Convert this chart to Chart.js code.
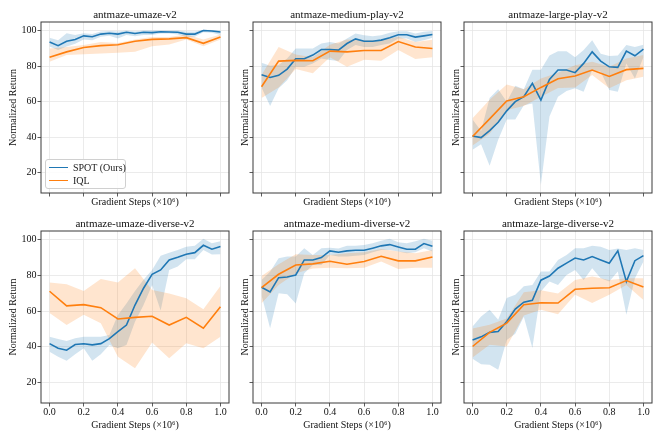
<!DOCTYPE html>
<html>
<head>
<meta charset="utf-8">
<script src="https://cdn.jsdelivr.net/npm/chart.js@4.4.1/dist/chart.umd.min.js"></script>
<style>
  body { margin: 0; background: #fff; }
  #wrap { position: relative; width: 664px; height: 443px; overflow: hidden; }
  #wrap canvas { position: absolute; }
  .legend {
    position: absolute; left: 45px; top: 159px; width: 79px; height: 28px;
    border: 1px solid #d0d0d0; border-radius: 3px; background: rgba(255,255,255,0.85);
    font-family: "Liberation Serif", serif; font-size: 10px; color: #222;
  }
  .legend .row { position: absolute; left: 3px; height: 12px; line-height: 12px; white-space: nowrap; }
  .legend .swatch { display: inline-block; width: 19px; height: 0; border-top: 1.5px solid; vertical-align: middle; margin-right: 5px; position: relative; top: -1px; }
</style>
</head>
<body>
<div id="wrap">
  <canvas id="c1"></canvas>
  <canvas id="c2"></canvas>
  <canvas id="c3"></canvas>
  <canvas id="c4"></canvas>
  <canvas id="c5"></canvas>
  <canvas id="c6"></canvas>
  <div class="legend">
    <div class="row" style="top:2px"><span class="swatch" style="border-color:#1f77b4"></span>SPOT (Ours)</div>
    <div class="row" style="top:15px"><span class="swatch" style="border-color:#ff7f0e"></span>IQL</div>
  </div>
</div>
<script>
// x positions of the logged evaluations (x 10^6 gradient steps)
const SPOT_STEPS = [0, 0.05, 0.1, 0.15, 0.2, 0.25, 0.3, 0.35, 0.4, 0.45, 0.5, 0.55, 0.6, 0.65, 0.7, 0.75, 0.8, 0.85, 0.9, 0.95, 1.0];
const IQL_STEPS = [0, 0.1, 0.2, 0.3, 0.4, 0.5, 0.6, 0.7, 0.8, 0.9, 1.0];
const X_TICKS = [0, 0.2, 0.4, 0.6, 0.8, 1.0];
const Y_TICKS = [20, 40, 60, 80, 100];

// antmaze-umaze-v2
const UMAZE_SPOT = [93.5, 91.5, 94, 95, 97, 96.5, 98, 98.5, 98, 99, 98.3, 99, 98.8, 99.3, 99.2, 99, 98, 98, 100, 99.7, 99.2];
const UMAZE_SPOT_HI = [96, 94.5, 98.5, 97.5, 98.5, 98, 99.5, 99.8, 99.5, 100, 99.5, 100, 100, 100, 100, 100, 99.5, 99.5, 100.5, 100.3, 100];
const UMAZE_SPOT_LO = [91, 89, 91, 92.5, 95, 94.5, 96.5, 97, 95.5, 97.5, 96.8, 97.5, 97.5, 98.3, 98.3, 97.8, 96.3, 96.5, 99, 98.8, 97.5];
const UMAZE_IQL = [85, 88, 90.5, 91.5, 92, 94, 95, 95.3, 96, 92.8, 96.3];
const UMAZE_IQL_HI = [89.9, 90.8, 91.8, 93.6, 93, 95, 96.4, 96.4, 97.8, 95, 97.8];
const UMAZE_IQL_LO = [82.4, 86.2, 86.7, 87.1, 87.5, 88, 91.2, 92.1, 95, 91.2, 95];

// antmaze-medium-play-v2
const MPLAY_SPOT = [75.1, 73.6, 74.8, 78.3, 84.1, 84.1, 86.2, 89.3, 89.3, 89, 92.7, 95.3, 94, 94, 94.6, 95.9, 97.6, 97.6, 96.3, 97, 97.8];
const MPLAY_SPOT_HI = [81.9, 80.2, 80.6, 84.3, 89.9, 89.9, 89.9, 92.7, 93.6, 92.7, 95.5, 98.3, 97.4, 96.8, 97.4, 98.7, 99.6, 99.6, 98.3, 99.3, 99.8];
const MPLAY_SPOT_LO = [68, 57.6, 67.5, 72.1, 79.6, 79.6, 81.5, 84.3, 83.4, 82.8, 89, 91.8, 90.8, 90.8, 91.8, 92.7, 95.5, 95.5, 93.6, 94.6, 96];
const MPLAY_IQL = [68.4, 82.8, 83.2, 83, 88.4, 88, 88.8, 88.8, 93.8, 90.7, 89.9];
const MPLAY_IQL_HI = [75, 90.8, 86.5, 85, 92, 95, 94.6, 94.6, 96.5, 93.5, 94.8];
const MPLAY_IQL_LO = [62, 68, 78.3, 76, 85, 79.6, 83.6, 83, 89, 84, 85];

// antmaze-large-play-v2
const LPLAY_SPOT = [40.7, 39.8, 43.7, 48.4, 54.8, 60, 62.8, 70.3, 60.9, 72.5, 77.8, 77.8, 76.3, 81.5, 88, 82.8, 79.6, 79.3, 88.4, 85.8, 89.5];
const LPLAY_SPOT_HI = [50, 43.5, 62, 67, 60, 69, 67, 78, 78, 86, 88.4, 88.4, 85, 89, 94.6, 87, 85.7, 86, 91.8, 90.8, 92];
const LPLAY_SPOT_LO = [33, 36, 24, 38.5, 50, 50, 58, 59, 13.3, 51.6, 62.8, 66, 67.5, 65.6, 77.8, 76.8, 66.5, 65.6, 81.5, 73, 85];
const LPLAY_IQL = [40.4, 50.3, 60.4, 62.8, 68, 72.9, 74.4, 77.8, 74.2, 78, 78.7];
const LPLAY_IQL_HI = [50.6, 61, 69.7, 67, 73, 76.3, 80.5, 82.4, 79.6, 84.3, 86.2];
const LPLAY_IQL_LO = [35.3, 42, 55.3, 57.6, 62.8, 67.7, 67.9, 75, 67.5, 72, 74];

// antmaze-umaze-diverse-v2
const UDIV_SPOT = [41.8, 39.2, 38.1, 41.3, 41.7, 41.1, 41.8, 44.6, 48.5, 52.2, 63.4, 72.8, 80.6, 83, 88.6, 90.1, 91.8, 92.7, 96.8, 94.6, 96.1];
const UDIV_SPOT_HI = [45.7, 44.4, 43.3, 44.8, 45.7, 45.7, 45.7, 46.6, 57.8, 64.3, 71.3, 77.5, 83, 91, 92.7, 94.2, 96, 96.6, 100.4, 98, 99];
const UDIV_SPOT_LO = [37.3, 34.5, 32.3, 35.8, 39.2, 32.2, 35.8, 41, 39.2, 41, 54.1, 63.4, 74.6, 60.3, 83, 84.9, 89, 89, 94.2, 91.6, 91.8];
const UDIV_IQL = [71.1, 62.9, 63.6, 61.9, 55.6, 56.5, 57.1, 52.2, 56.5, 50.4, 62.5];
const UDIV_IQL_HI = [76, 75, 71.3, 78, 76, 84, 71.8, 69.8, 67.2, 61, 74];
const UDIV_IQL_LO = [58.9, 52.2, 57.9, 53.2, 34.5, 28, 42.4, 33.6, 42, 39.2, 45.7];

// antmaze-medium-diverse-v2
const MDIV_SPOT = [73.3, 70.7, 78.7, 79.1, 80.2, 88.6, 88.6, 89.9, 93.7, 92.9, 93.7, 94, 94, 95.2, 96.5, 97.2, 95.9, 94.6, 94.6, 97.8, 96.3];
const MDIV_SPOT_HI = [77.4, 82, 89.6, 90.5, 90.5, 95.2, 91.4, 95.2, 95.5, 95, 96.6, 96.6, 97, 98, 99.3, 100.4, 98.5, 98, 99, 100.4, 99.3];
const MDIV_SPOT_LO = [68.9, 50.4, 70, 69.4, 64.3, 81.2, 85.8, 85.8, 91.4, 90.5, 90.5, 91, 91.4, 92.9, 94.2, 94.2, 93.3, 92.3, 92.9, 95.2, 93.3];
const MDIV_IQL = [73.1, 80.6, 85.8, 86.4, 87.9, 86.2, 87.7, 90.7, 88.1, 88.1, 90.3];
const MDIV_IQL_HI = [79.7, 86.2, 91.8, 91.4, 91.4, 92.3, 92.9, 94.8, 93.3, 92.3, 94.2];
const MDIV_IQL_LO = [64.4, 74.6, 81.2, 83.8, 84.3, 84, 84.3, 87.7, 83.6, 84.3, 84.3];

// antmaze-large-diverse-v2
const LDIV_SPOT = [43.9, 45.6, 48.1, 48.6, 54.2, 61.1, 65, 66.1, 77.3, 79.6, 84, 86.8, 89.7, 88.6, 90.5, 88.6, 86.8, 93.7, 76.5, 88.2, 91];
const LDIV_SPOT_HI = [51.4, 57, 60.8, 55.2, 67.3, 69.2, 73.9, 74.6, 82.1, 82.1, 88.6, 91.4, 95.2, 95.2, 96.6, 96, 94.2, 95, 94.2, 95.2, 94.2];
const LDIV_SPOT_LO = [33.3, 30.3, 30, 27.2, 43.9, 47.3, 56.9, 39.3, 70.9, 76.5, 74.6, 80.2, 83, 77.4, 84, 78.4, 76.5, 82.1, 58, 78.4, 87.7];
const LDIV_IQL = [40.2, 48.1, 53.3, 63.6, 64.7, 64.5, 72.2, 72.8, 73.1, 77.1, 73.5];
const LDIV_IQL_HI = [50.2, 52.3, 55.9, 70.6, 71.6, 69.8, 77.4, 79.3, 77.4, 78.4, 78.4];
const LDIV_IQL_LO = [34, 41.2, 40.2, 57.6, 60.8, 58.2, 69.1, 64.5, 69.1, 74.6, 66.2];

const BLUE = '#1f77b4';
const ORANGE = '#ff7f0e';
const FONT = '"Liberation Serif", "DejaVu Serif", serif';

// matplotlib-style box around the axes
const framePlugin = {
    id: 'frame',
    afterDatasetsDraw(chart) {
        const { ctx, chartArea: a } = chart;
        ctx.save();
        ctx.strokeStyle = '#3a3a3a';
        ctx.lineWidth = 1;
        ctx.strokeRect(a.left, a.top, a.right - a.left, a.bottom - a.top);
        ctx.restore();
    }
};

function pts(xs, ys) {
    return xs.map((x, i) => ({ x, y: ys[i] }));
}

function makePanel(p) {
    const el = document.getElementById(p.id);
    const yw = p.yLabels ? 41 : 14;
    const xh = p.xLabels ? 28 : 15;
    const plotH = p.xLabels ? 172 : 171;
    el.width = yw + 188 + 8;
    el.height = 22 + plotH + xh;
    el.style.left = (p.left - yw) + 'px';
    el.style.top = (p.top - 22) + 'px';

    const mean = (label, xs, ys, color, order) => ({
        label, data: pts(xs, ys), borderColor: color, borderWidth: 1.6,
        pointRadius: 0, tension: 0, fill: false, order
    });
    const edge = (xs, ys, fill, bg, order) => ({
        data: pts(xs, ys), borderWidth: 0, borderColor: 'transparent',
        pointRadius: 0, tension: 0, fill, backgroundColor: bg, order
    });

    new Chart(el.getContext('2d'), {
        type: 'line',
        data: {
            datasets: [
                mean('SPOT (Ours)', SPOT_STEPS, p.spot, BLUE, 1),
                mean('IQL', IQL_STEPS, p.iql, ORANGE, 0),
                edge(SPOT_STEPS, p.spotHi, false, 'transparent', 4),
                edge(SPOT_STEPS, p.spotLo, '-1', 'rgba(31,119,180,0.2)', 4),
                edge(IQL_STEPS, p.iqlHi, false, 'transparent', 3),
                edge(IQL_STEPS, p.iqlLo, '-1', 'rgba(255,127,14,0.2)', 3)
            ]
        },
        options: {
            responsive: false,
            animation: false,
            layout: { padding: { left: 0, right: 8, top: 0, bottom: 0 } },
            plugins: {
                legend: { display: false },
                tooltip: { enabled: false },
                title: {
                    display: true, text: p.title, fullSize: false, color: '#111',
                    font: { family: FONT, size: 11, weight: 'normal', lineHeight: 1.2 },
                    padding: { top: 8.8, bottom: 0 }
                }
            },
            scales: {
                x: {
                    type: 'linear', min: -0.05, max: 1.05,
                    afterFit(s) { s.height = xh; },
                    afterBuildTicks(s) { s.ticks = X_TICKS.map(v => ({ value: v })); },
                    border: { display: false },
                    grid: { color: '#e6e6e6', lineWidth: 0.8, tickColor: '#333', tickLength: 3.5, tickWidth: 0.8 },
                    ticks: {
                        padding: 0, color: '#111', maxRotation: 0,
                        font: { family: FONT, size: 10 },
                        callback: v => p.xLabels ? v.toFixed(1) : ''
                    },
                    title: {
                        display: true, text: 'Gradient Steps (×10⁶)', color: '#111',
                        font: { family: FONT, size: 10, lineHeight: 1.2 }, padding: 0
                    }
                },
                y: {
                    min: 8.6, max: 104.8,
                    afterFit(s) { s.width = yw; },
                    afterBuildTicks(s) { s.ticks = Y_TICKS.map(v => ({ value: v })); },
                    border: { display: false },
                    grid: { color: '#e6e6e6', lineWidth: 0.8, tickColor: '#333', tickLength: 3.5, tickWidth: 0.8 },
                    ticks: {
                        padding: 1, color: '#111',
                        font: { family: FONT, size: 10 },
                        callback: v => p.yLabels ? String(v) : ''
                    },
                    title: {
                        display: true, text: 'Normalized Return', color: '#111',
                        font: { family: FONT, size: 10, lineHeight: 1.2 },
                        padding: { top: p.yLabels ? 7 : 0, bottom: 0 }
                    }
                }
            }
        },
        plugins: [framePlugin]
    });
}

makePanel({ id: 'c1', left: 41, top: 22, title: 'antmaze-umaze-v2', yLabels: true, xLabels: false,
    spot: UMAZE_SPOT, spotHi: UMAZE_SPOT_HI, spotLo: UMAZE_SPOT_LO, iql: UMAZE_IQL, iqlHi: UMAZE_IQL_HI, iqlLo: UMAZE_IQL_LO });
makePanel({ id: 'c2', left: 253, top: 22, title: 'antmaze-medium-play-v2', yLabels: false, xLabels: false,
    spot: MPLAY_SPOT, spotHi: MPLAY_SPOT_HI, spotLo: MPLAY_SPOT_LO, iql: MPLAY_IQL, iqlHi: MPLAY_IQL_HI, iqlLo: MPLAY_IQL_LO });
makePanel({ id: 'c3', left: 464, top: 22, title: 'antmaze-large-play-v2', yLabels: false, xLabels: false,
    spot: LPLAY_SPOT, spotHi: LPLAY_SPOT_HI, spotLo: LPLAY_SPOT_LO, iql: LPLAY_IQL, iqlHi: LPLAY_IQL_HI, iqlLo: LPLAY_IQL_LO });
makePanel({ id: 'c4', left: 41, top: 231, title: 'antmaze-umaze-diverse-v2', yLabels: true, xLabels: true,
    spot: UDIV_SPOT, spotHi: UDIV_SPOT_HI, spotLo: UDIV_SPOT_LO, iql: UDIV_IQL, iqlHi: UDIV_IQL_HI, iqlLo: UDIV_IQL_LO });
makePanel({ id: 'c5', left: 253, top: 231, title: 'antmaze-medium-diverse-v2', yLabels: false, xLabels: true,
    spot: MDIV_SPOT, spotHi: MDIV_SPOT_HI, spotLo: MDIV_SPOT_LO, iql: MDIV_IQL, iqlHi: MDIV_IQL_HI, iqlLo: MDIV_IQL_LO });
makePanel({ id: 'c6', left: 464, top: 231, title: 'antmaze-large-diverse-v2', yLabels: false, xLabels: true,
    spot: LDIV_SPOT, spotHi: LDIV_SPOT_HI, spotLo: LDIV_SPOT_LO, iql: LDIV_IQL, iqlHi: LDIV_IQL_HI, iqlLo: LDIV_IQL_LO });
</script>
</body>
</html>
